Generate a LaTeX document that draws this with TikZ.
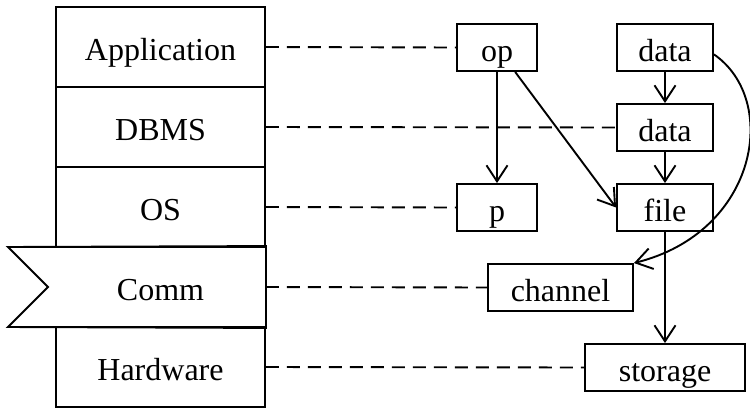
\documentclass[tikz,border=0pt]{standalone}
\usepackage{fontspec}
\setmainfont{Liberation Serif}
\usetikzlibrary{arrows.meta}
\begin{document}
\begin{tikzpicture}[x=1pt,y=-1pt,
  every node/.style={font=\fontsize{32}{38}\selectfont, inner sep=0pt, text height=28pt, text depth=1pt},
  every path/.style={line width=1.9pt},
  layer/.style={draw, minimum width=209pt, minimum height=80pt},
  item/.style={draw, minimum height=47pt},
  link/.style={dash pattern=on 13pt off 8pt},
  flow/.style={-{Straight Barb[length=16pt,width=21pt,line width=1.9pt]}}]
\useasboundingbox (0,0) rectangle (750,408);

% protocol stack on the left
\node[layer] (app) at (160.5,47) {Application};
\node[layer] (dbms) at (160.5,127) {DBMS};
\node[layer] (os) at (160.5,207) {OS};
\node[layer, draw=none] (comm) at (160.5,287) {Comm};
\node[layer] (hw) at (160.5,367) {Hardware};
% pennant outline of the Comm layer
\draw (comm.north east) -- (8,247) -- (48,287) -- (8,327) -- (comm.south east) -- cycle;

% objects on the right
\node[item, minimum width=80pt] (op) at (497,47.5) {op};
\node[item, minimum width=80pt] (p) at (497,207.5) {p};
\node[item, minimum width=96pt] (data1) at (665,47.5) {data};
\node[item, minimum width=96pt] (data2) at (665,127.5) {data};
\node[item, minimum width=96pt] (file) at (665,207.5) {file};
\node[item, minimum width=145pt] (chan) at (560.5,287.5) {channel};
\node[item, minimum width=160pt] (store) at (665,367.5) {storage};

% layer-to-object correspondences
\draw[link] (app.east) -- (op.west);
\draw[link] (dbms.east) -- (data2.west);
\draw[link] (os.east) -- (p.west);
\draw[link] (comm.east) -- (chan.west);
\draw[link] (hw.east) -- (store.west);

% dependencies
\draw[flow] (op) -- (p);
\draw[flow] (op) -- (file.west);
\draw[flow] (data1) -- (data2);
\draw[flow] (data2) -- (file);
\draw[flow] (file) -- (store);
\draw[flow] (data1.-8) .. controls (780,100) and (758,232) .. (chan.north east);
\end{tikzpicture}
\end{document}
